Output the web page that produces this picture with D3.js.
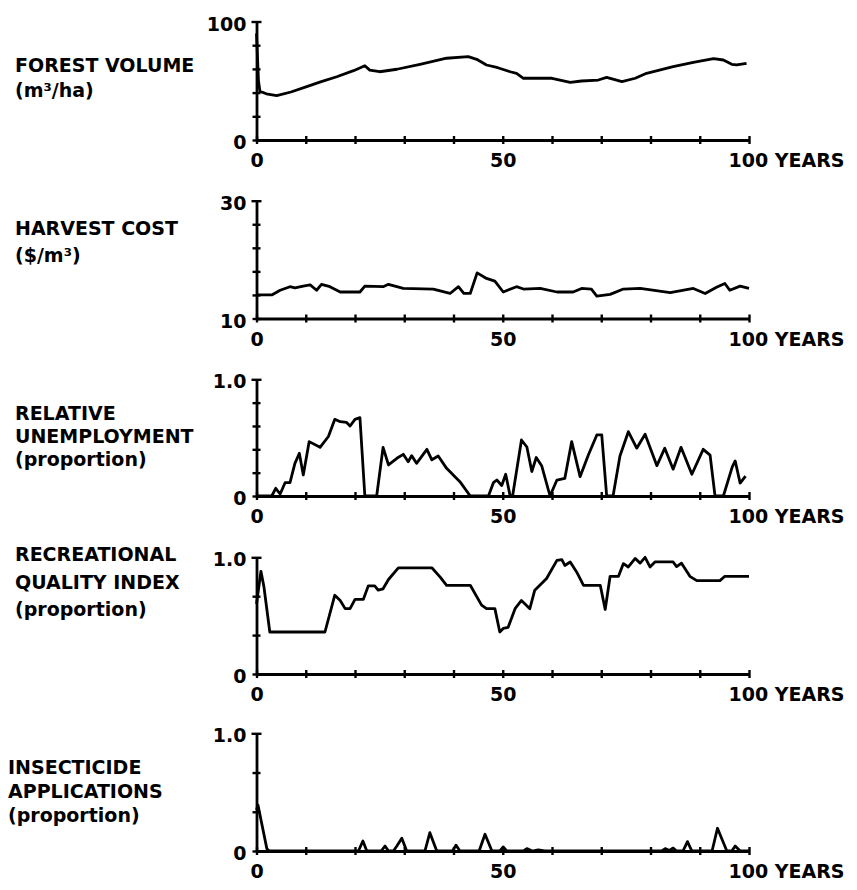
<!DOCTYPE html>
<html>
<head>
<meta charset="utf-8">
<script src="https://cdn.jsdelivr.net/npm/d3@7"></script>
<style>
  body { margin: 0; background: #fff; }
  text { font-family: "DejaVu Sans", sans-serif; fill: #000; }
</style>
</head>
<body>
<div id="chart"></div>
<script>
// [year, value]
const forestVolume = [[0,90],[0.4,50],[0.7,41],[2,39],[4.1,37.4],[7,40.5],[10.2,45],[13,49],[16.3,53.4],[19.7,58.5],[22,62.7],[23,59],[25,57.6],[28.5,59.7],[33.2,63.9],[38.6,69],[43,70.3],[44.7,68.1],[46.7,63.3],[49,61],[51.5,57.6],[52.8,56.3],[54.2,52.1],[60,52.1],[63.7,48.7],[66,49.8],[69.4,50.6],[71.1,52.9],[74.2,49.2],[76.9,52.1],[79.2,56.3],[84.6,61.9],[88.7,65.6],[92.8,68.6],[94.8,67.5],[96.5,63.9],[97.5,63.3],[99.5,64.7]];

const harvestCost = [[0,14],[3.1,14],[4.8,14.8],[6.8,15.4],[7.8,15.2],[9.5,15.5],[10.9,15.7],[12.2,14.8],[13.2,15.8],[14.9,15.4],[17,14.5],[21,14.5],[22,15.5],[25.7,15.4],[26.8,15.8],[29.8,15.1],[35.9,15],[39.3,14.25],[41,15.4],[42.1,14.25],[43.4,14.25],[44.8,17.75],[46.7,16.8],[48.4,16.35],[50.1,14.5],[52.8,15.4],[54.2,15],[57.6,15.1],[61,14.5],[64.3,14.5],[66,15.1],[68,15],[69.1,13.8],[71.8,14.1],[74.5,15],[77.9,15.1],[84,14.4],[88.7,15.1],[91.1,14.25],[93.4,15.3],[95.1,15.95],[96.1,14.8],[98.2,15.5],[100,15.1]];

const unemployment = [[0,0],[3.1,0],[3.9,0.066],[4.8,0.017],[5.8,0.114],[6.8,0.114],[7.8,0.28],[8.7,0.366],[9.5,0.18],[10.7,0.466],[12.9,0.417],[14.6,0.51],[15.9,0.657],[17,0.637],[18.3,0.63],[19,0.6],[20,0.657],[21,0.671],[22,0],[24.4,0],[25.7,0.417],[26.8,0.266],[28.5,0.323],[29.8,0.357],[30.8,0.294],[31.5,0.346],[32.5,0.28],[34.6,0.4],[35.6,0.31],[36.9,0.343],[38.6,0.237],[41.3,0.123],[43.4,0],[47.1,0],[48.1,0.114],[48.8,0.137],[49.8,0.09],[50.6,0.186],[51.5,0],[52,0],[53.8,0.48],[54.9,0.42],[55.9,0.21],[56.8,0.33],[57.9,0.26],[59.6,0],[61,0.137],[62.6,0.15],[64,0.466],[65.7,0.166],[67.4,0.354],[69.1,0.523],[70.1,0.523],[71.1,0],[72.4,0],[73.8,0.343],[75.5,0.551],[77.2,0.41],[78.9,0.529],[81.3,0.26],[82.9,0.41],[84.6,0.23],[86.2,0.417],[88.4,0.186],[90.7,0.4],[92.1,0.35],[93.1,0],[94.8,0],[96.6,0.25],[97.2,0.3],[98.2,0.11],[99.3,0.17]];

const recreation = [[0,0.6],[0.9,0.88],[1.5,0.75],[2.7,0.36],[13.9,0.36],[15.9,0.675],[17,0.63],[18,0.56],[19,0.56],[20,0.64],[21.7,0.64],[22.7,0.755],[24,0.755],[24.7,0.718],[25.7,0.73],[26.8,0.81],[28.8,0.91],[35.6,0.91],[37.3,0.83],[38.6,0.76],[43.4,0.76],[45.7,0.59],[46.7,0.56],[48.4,0.56],[49.4,0.36],[50.1,0.39],[51.1,0.4],[52.5,0.56],[53.8,0.63],[55.5,0.56],[56.5,0.718],[58.9,0.818],[61,0.974],[62,0.98],[62.6,0.93],[63.7,0.96],[65,0.875],[66.4,0.76],[69.8,0.76],[70.8,0.553],[71.8,0.837],[73.5,0.837],[74.5,0.946],[75.5,0.917],[76.9,0.99],[77.9,0.95],[78.9,1],[79.9,0.917],[80.9,0.96],[84.6,0.96],[85.3,0.92],[86.3,0.95],[88,0.837],[89.4,0.8],[94.1,0.8],[95.1,0.837],[100,0.837]];

const insecticide = [[0,0.35],[0.3,0.39],[1.05,0.235],[2.1,0.02],[2.6,0],[20.7,0],[21.6,0.085],[22.4,0],[25.3,0],[26.1,0.042],[26.8,0],[27.8,0],[28.5,0.042],[29.5,0.108],[30.5,0],[34.2,0],[35.2,0.156],[36.6,0],[39.8,0],[40.5,0.05],[41.3,0],[45.2,0],[46.4,0.142],[47.8,0],[49.4,0],[50.1,0.035],[50.8,0],[54.2,0],[54.9,0.02],[56,0],[57.2,0.01],[58.5,0],[82.3,0],[83,0.02],[83.8,0.005],[84.6,0.025],[85.3,0],[86.6,0],[87.5,0.08],[88.4,0],[92.5,0],[93.6,0.193],[95.5,0],[96.5,0],[97.2,0.042],[98.2,0],[100,0]];

const seriesList = [forestVolume, harvestCost, unemployment, recreation, insecticide];

const panelLabels = [
  ["FOREST VOLUME", "(m³/ha)"],
  ["HARVEST COST", "($/m³)"],
  ["RELATIVE", "UNEMPLOYMENT", "(proportion)"],
  ["RECREATIONAL", "QUALITY INDEX", "(proportion)"],
  ["INSECTICIDE", "APPLICATIONS", "(proportion)"]
];
const yDomains = [[0, 100], [10, 30], [0, 1], [0, 1], [0, 1]];
const yTicks = [
  [0, 20, 40, 60, 80, 100],
  [10, 14, 18, 22, 26, 30],
  [0, 0.2, 0.4, 0.6, 0.8, 1],
  [0, 1/3, 2/3, 1],
  [0, 1/3, 2/3, 1]
];
const yTickLabels = [["0", "100"], ["10", "30"], ["0", "1.0"], ["0", "1.0"], ["0", "1.0"]];
const xTicks = d3.range(0, 101, 10);
const xTickLabels = {0: "0", 50: "50", 100: "100 YEARS"};

// layout
const width = 857, height = 890;
const left = 256.5, right = 749;
const panels = [
  {top: 21.5, base: 140, labelX: 15, labelY: [72, 97]},
  {top: 200.7, base: 318.5, labelX: 15, labelY: [235, 262]},
  {top: 379.3, base: 496, labelX: 15, labelY: [420, 443, 466]},
  {top: 557.3, base: 674, labelX: 15, labelY: [561, 589, 616]},
  {top: 733.3, base: 851, labelX: 8, labelY: [774, 798, 822]}
];

const svg = d3.select("#chart").append("svg")
  .attr("width", width).attr("height", height)
  .attr("viewBox", `0 0 ${width} ${height}`);
svg.append("rect").attr("width", width).attr("height", height).attr("fill", "#fff");

const x = d3.scaleLinear().domain([0, 100]).range([left, right]);

panels.forEach((p, i) => {
  const y = d3.scaleLinear().domain(yDomains[i]).range([p.base, p.top]);
  const g = svg.append("g");

  // left title
  const t = g.append("text")
    .attr("font-size", 19)
    .attr("font-weight", "bold");
  panelLabels[i].forEach((s, k) => {
    t.append("tspan").attr("x", p.labelX).attr("y", p.labelY[k]).text(s);
  });

  const yLab = yTickLabels[i];
  const yAxis = d3.axisLeft(y)
    .tickValues(yTicks[i])
    .tickSize(4).tickSizeOuter(0).tickPadding(6)
    .tickFormat(d => d === yDomains[i][0] ? yLab[0] : d === yDomains[i][1] ? yLab[1] : "");
  const ya = g.append("g").attr("transform", `translate(${left},0)`).call(yAxis);
  ya.selectAll(".tick line").attr("x1", 4);
  ya.select(".tick:last-of-type line").attr("x1", 5).attr("x2", -5);
  ya.selectAll(".tick text").attr("dy", "0.45em");

  const xAxis = d3.axisBottom(x)
    .tickValues(xTicks)
    .tickSize(4).tickSizeOuter(0).tickPadding(10)
    .tickFormat(d => xTickLabels[d] || "");
  const xa = g.append("g").attr("transform", `translate(0,${p.base})`).call(xAxis);
  xa.selectAll(".tick line").attr("y1", -4);
  xa.selectAll(".tick text").filter(d => d === 100)
    .attr("text-anchor", "start").attr("x", -21);

  [ya, xa].forEach(a => {
    a.select(".domain").attr("stroke", "#000").attr("stroke-width", 2.8);
    a.selectAll(".tick line").attr("stroke", "#000").attr("stroke-width", 2.4);
    a.selectAll(".tick text")
      .attr("font-family", "DejaVu Sans, sans-serif")
      .attr("font-weight", "bold")
      .attr("font-size", 19).attr("fill", "#000");
  });

  const line = d3.line().x(d => x(d[0])).y(d => y(d[1]));
  g.append("path")
    .datum(seriesList[i])
    .attr("d", line)
    .attr("fill", "none")
    .attr("stroke", "#000")
    .attr("stroke-width", 2.8)
    .attr("stroke-linejoin", "round");
});
</script>
</body>
</html>
